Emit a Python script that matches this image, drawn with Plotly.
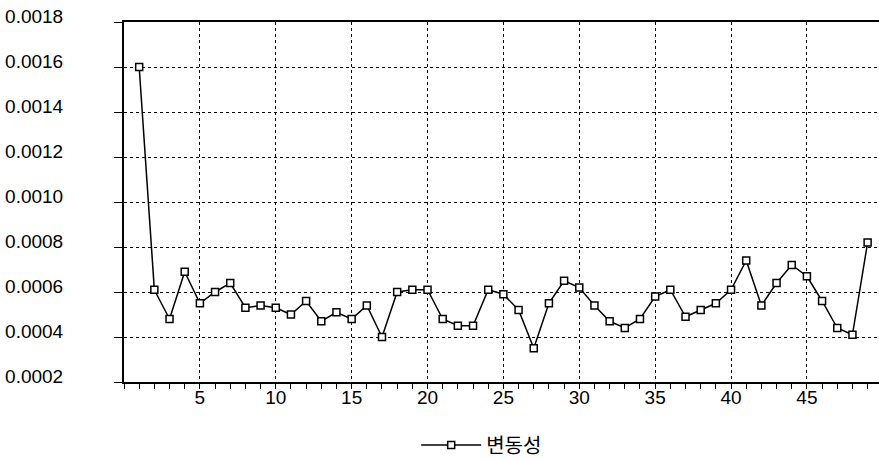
import plotly.graph_objects as go

periods = list(range(1, 50))
volatility = [
    0.00160, 0.00061, 0.00048, 0.00069, 0.00055, 0.00060, 0.00064, 0.00053, 0.00054, 0.00053,
    0.00050, 0.00056, 0.00047, 0.00051, 0.00048, 0.00054, 0.00040, 0.00060, 0.00061, 0.00061,
    0.00048, 0.00045, 0.00045, 0.00061, 0.00059, 0.00052, 0.00035, 0.00055, 0.00065, 0.00062,
    0.00054, 0.00047, 0.00044, 0.00048, 0.00058, 0.00061, 0.00049, 0.00052, 0.00055, 0.00061,
    0.00074, 0.00054, 0.00064, 0.00072, 0.00067, 0.00056, 0.00044, 0.00041, 0.00082,
]
series_name = "변동성"
y_ticks = [0.0002, 0.0004, 0.0006, 0.0008, 0.0010, 0.0012, 0.0014, 0.0016, 0.0018]
x_ticks = [5, 10, 15, 20, 25, 30, 35, 40, 45]

fig = go.Figure()
fig.add_trace(go.Scatter(
    x=periods, y=volatility, name=series_name, mode="lines+markers",
    line=dict(color="black", width=1.5),
    marker=dict(symbol="square", size=7, color="white", line=dict(color="black", width=1.5)),
    cliponaxis=False,
))

font = dict(family="Liberation Sans, Arial, sans-serif", size=19, color="black")

fig.update_layout(
    width=879, height=460,
    margin=dict(l=124, r=0, t=22, b=78, autoexpand=False),
    paper_bgcolor="white", plot_bgcolor="white",
    font=font,
    showlegend=True,
    legend=dict(orientation="h", x=0.387, xanchor="left", y=-0.175, yanchor="middle",
                itemwidth=60,
                font=dict(family="Noto Sans CJK KR", size=20, color="black"),
                bgcolor="rgba(0,0,0,0)"),
)
fig.update_xaxes(
    range=[0, 49.75], tickvals=x_ticks, ticktext=[str(v) for v in x_ticks],
    ticks="outside", ticklen=5, tickwidth=1, tickcolor="black",
    minor=dict(dtick=1, tick0=0, ticks="outside", ticklen=5, tickcolor="black", showgrid=False),
    showgrid=True, gridcolor="black", gridwidth=1, griddash="dot",
    showline=True, linecolor="black", linewidth=2, mirror=True,
    zeroline=False, tickfont=font, automargin=False, ticklabelstandoff=-8,
)
fig.update_yaxes(
    range=[0.0002, 0.0018], tickvals=y_ticks, ticktext=[f"{v:.4f}" for v in y_ticks],
    ticks="outside", ticklen=8, tickwidth=1, tickcolor="black",
    showgrid=True, gridcolor="black", gridwidth=1, griddash="dot",
    showline=True, linecolor="black", linewidth=2,
    zeroline=False, tickfont=font, ticklabelstandoff=47, ticklabelshift=-6,
    automargin=False,
)

fig.write_html("out.html", config={"displayModeBar": False},
               post_script="document.body.style.margin='0';")
